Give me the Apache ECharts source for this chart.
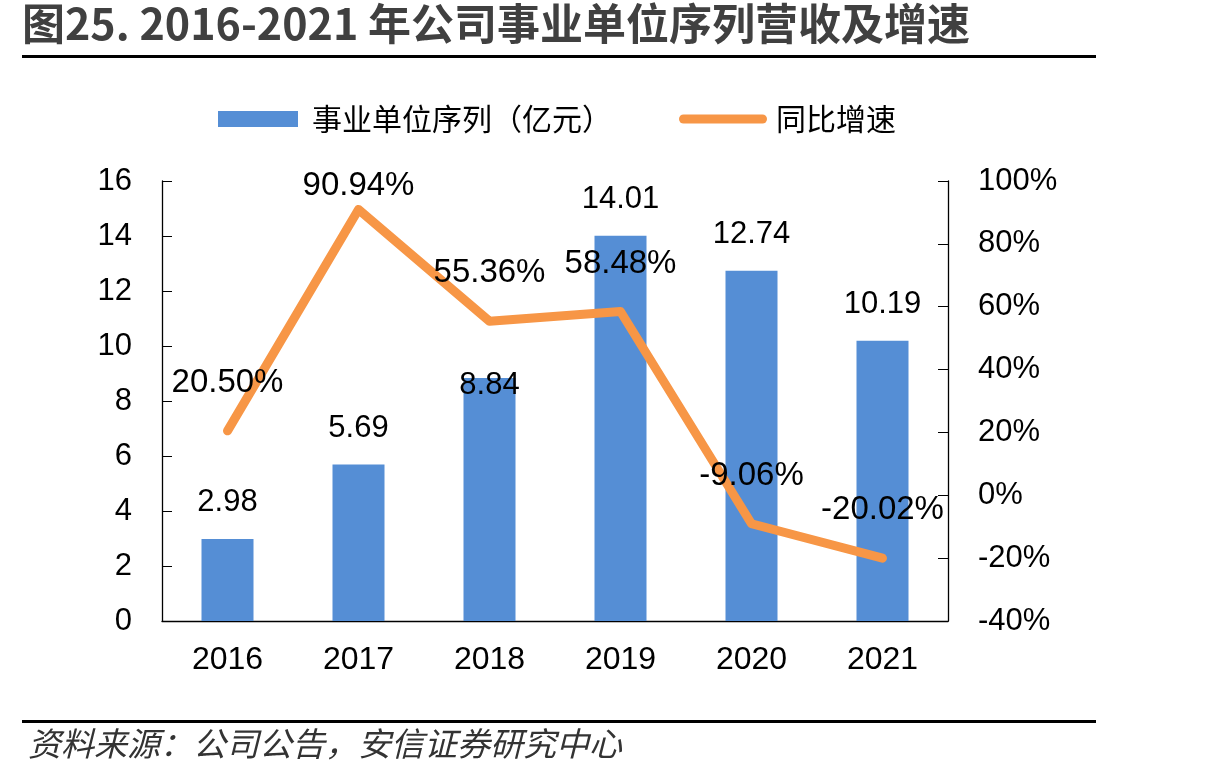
<!DOCTYPE html>
<html>
<head>
<meta charset="utf-8">
<script src="https://cdn.jsdelivr.net/npm/echarts@6/dist/echarts.min.js"></script>
<style>
html,body{margin:0;padding:0;background:#fff;}
#c{width:1215px;height:779px;}
</style>
</head>
<body>
<div id="c"></div>
<script>
var titleText = '图25. 2016-2021 年公司事业单位序列营收及增速';
var sourceText = '资料来源：公司公告，安信证券研究中心';
var categories = ['2016', '2017', '2018', '2019', '2020', '2021'];
var revenue = [2.98, 5.69, 8.84, 14.01, 12.74, 10.19];
var growth = [20.50, 90.94, 55.36, 58.48, -9.06, -20.02];
var barName = '事业单位序列（亿元）';
var lineName = '同比增速';

var numFont = "'Liberation Sans', Arial, sans-serif";
var cjkFont = "'Noto Sans CJK SC', sans-serif";

var barData = revenue.map(function (v, i) {
  var d = { value: v };
  if (i === 2) d.label = { offset: [0, 44] };
  return d;
});
var lineData = growth.map(function (v, i) {
  var d = { value: v };
  if (i === 1) d.label = { offset: [0, 24] };
  return d;
});

var chart = echarts.init(document.getElementById('c'), null, { renderer: 'canvas' });
chart.setOption({
  backgroundColor: '#fff',
  animation: false,
  title: [{
    text: titleText,
    left: 22, top: 2,
    padding: 0,
    textStyle: { fontSize: 43, fontWeight: 'bold', color: '#404040', fontFamily: "'Liberation Sans Narrow', 'Noto Sans CJK SC', sans-serif" }
  }, {
    text: sourceText,
    left: 28, top: 727,
    padding: 0,
    textStyle: { fontSize: 33, fontWeight: 'normal', fontStyle: 'italic', color: '#333', fontFamily: cjkFont }
  }],
  graphic: [
    { type: 'rect', shape: { x: 22, y: 55, width: 1074, height: 3 }, style: { fill: '#000' } },
    { type: 'rect', shape: { x: 22, y: 720, width: 1074, height: 3 }, style: { fill: '#000' } }
  ],
  legend: [{
    data: [barName],
    left: 218, top: 104,
    padding: 0,
    itemWidth: 80, itemHeight: 16,
    icon: 'rect',
    textStyle: { fontSize: 30, color: '#000', fontFamily: cjkFont, padding: [0, 0, 0, 9] }
  }, {
    data: [lineName],
    left: 679, top: 104,
    padding: 0,
    itemWidth: 88, itemHeight: 9,
    icon: 'path://M4.5,0 L83.5,0 A4.5,4.5 0 0 1 83.5,9 L4.5,9 A4.5,4.5 0 0 1 4.5,0 Z',
    textStyle: { fontSize: 30, color: '#000', fontFamily: cjkFont, padding: [0, 0, 0, 4] }
  }],
  grid: { left: 162, right: 267, top: 181, bottom: 158, containLabel: false },
  xAxis: {
    type: 'category',
    data: categories,
    boundaryGap: true,
    axisLine: { lineStyle: { color: '#000', width: 1.3 } },
    axisTick: { inside: true, length: 10, lineStyle: { color: '#000' } },
    axisLabel: { fontSize: 32, color: '#000', fontFamily: numFont, margin: 23 }
  },
  yAxis: [{
    type: 'value',
    min: 0, max: 16, interval: 2,
    axisLine: { show: true, lineStyle: { color: '#000', width: 1.3 } },
    axisTick: { show: true, inside: true, length: 10, lineStyle: { color: '#000' } },
    splitLine: { show: false },
    axisLabel: { fontSize: 31, color: '#000', fontFamily: numFont, margin: 30 }
  }, {
    type: 'value',
    min: -40, max: 100, interval: 20,
    position: 'right',
    axisLine: { show: true, lineStyle: { color: '#000', width: 1.3 } },
    axisTick: { show: true, inside: true, length: 10, lineStyle: { color: '#000' } },
    splitLine: { show: false },
    axisLabel: { fontSize: 31, color: '#000', fontFamily: numFont, margin: 30, formatter: '{value}%' }
  }],
  series: [{
    name: barName,
    type: 'bar',
    data: barData,
    barWidth: 52,
    itemStyle: { color: '#558ED5' },
    label: {
      show: true, position: 'top', distance: 21,
      fontSize: 31, color: '#000', fontFamily: numFont,
      formatter: function (p) { return p.value.toFixed(2); }
    },
    z: 2
  }, {
    name: lineName,
    type: 'line',
    yAxisIndex: 1,
    data: lineData,
    showSymbol: true,
    symbol: 'circle',
    symbolSize: 1,
    lineStyle: { color: '#F79646', width: 9, cap: 'round', join: 'round' },
    itemStyle: { color: '#F79646' },
    label: {
      show: true, position: 'top', distance: 31,
      fontSize: 33, color: '#000', fontFamily: numFont,
      formatter: function (p) { return p.value.toFixed(2) + '%'; }
    },
    z: 3
  }]
});
</script>
</body>
</html>
